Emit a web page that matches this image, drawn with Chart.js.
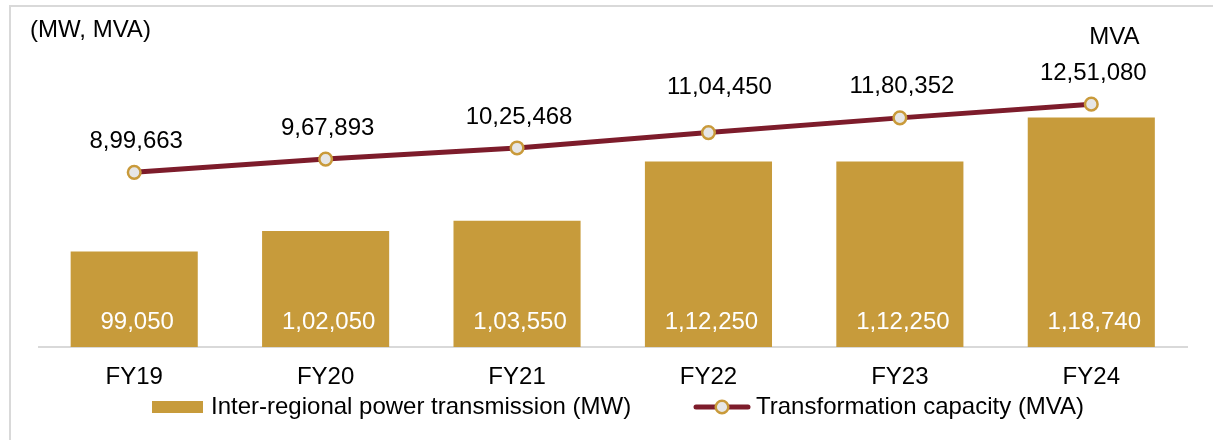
<!DOCTYPE html>
<html>
<head>
<meta charset="utf-8">
<script src="https://cdn.jsdelivr.net/npm/chart.js@4.4.1/dist/chart.umd.min.js"></script>
<style>
  html, body { margin: 0; padding: 0; background: #fff; }
  #wrap { position: relative; width: 1213px; height: 440px; }
</style>
</head>
<body>
<div id="wrap"><canvas id="c" width="1213" height="440"></canvas></div>
<script>
// ---- data ----
const categories = ['FY19', 'FY20', 'FY21', 'FY22', 'FY23', 'FY24'];
const transmissionMW = [99050, 102050, 103550, 112250, 112250, 118740];
const capacityMVA = [899663, 967893, 1025468, 1104450, 1180352, 1251080];
const seriesNames = ['Inter-regional power transmission (MW)', 'Transformation capacity (MVA)'];
const unitLabel = '(MW, MVA)';
const lineUnitLabel = 'MVA';

// Indian digit grouping (e.g. 12,51,080)
function fmtIN(v) {
  const s = String(Math.round(v));
  if (s.length <= 3) return s;
  const last3 = s.slice(-3);
  let rest = s.slice(0, -3);
  const parts = [];
  while (rest.length > 2) { parts.unshift(rest.slice(-2)); rest = rest.slice(0, -2); }
  if (rest.length) parts.unshift(rest);
  return parts.join(',') + ',' + last3;
}

const FONT = '"Liberation Sans", Arial, sans-serif';
const BAR_COLOR = '#c79b3b';
const LINE_COLOR = '#7d1c2b';
const POINT_FILL = '#e6e6e6';
const POINT_BORDER = '#c99a3a';

const decorPlugin = {
  id: 'decor',
  beforeDraw(chart) {
    const ctx = chart.ctx;
    ctx.save();
    ctx.strokeStyle = '#d9d9d9';
    ctx.lineWidth = 2;
    ctx.beginPath();
    ctx.moveTo(10, 440);
    ctx.lineTo(10, 6);
    ctx.lineTo(1213, 6);
    ctx.stroke();
    ctx.restore();
  },
  afterDatasetsDraw(chart) {
    const ctx = chart.ctx;
    ctx.save();
    ctx.font = '24px ' + FONT;
    ctx.textAlign = 'center';
    ctx.textBaseline = 'middle';
    // bar labels
    const barMeta = chart.getDatasetMeta(0);
    ctx.fillStyle = '#ffffff';
    barMeta.data.forEach((el, i) => {
      ctx.fillText(fmtIN(transmissionMW[i]), el.x + 3, chart.scales.y.bottom - 25);
    });
    // line labels
    const lineMeta = chart.getDatasetMeta(1);
    ctx.fillStyle = '#000000';
    const nudge = { 3: [9, -14] };
    lineMeta.data.forEach((el, i) => {
      const n = nudge[i] || [0, 0];
      ctx.fillText(fmtIN(capacityMVA[i]), el.x + 2 + n[0], el.y - 31 + n[1]);
    });
    // unit labels
    const last = lineMeta.data[lineMeta.data.length - 1];
    ctx.fillText(lineUnitLabel, last.x + 23, 37);
    ctx.textAlign = 'left';
    ctx.fillText(unitLabel, 30, 30);
    ctx.restore();
  },
  afterDraw(chart) {
    const ctx = chart.ctx;
    ctx.save();
    ctx.font = '24px ' + FONT;
    ctx.textBaseline = 'middle';
    ctx.textAlign = 'left';
    const ly = 407;
    // bar legend
    ctx.fillStyle = BAR_COLOR;
    ctx.fillRect(152, ly - 6, 51, 12);
    ctx.fillStyle = '#000';
    ctx.fillText(seriesNames[0], 211, ly);
    // line legend
    ctx.strokeStyle = LINE_COLOR;
    ctx.lineWidth = 5;
    ctx.lineCap = 'round';
    ctx.beginPath();
    ctx.moveTo(696, ly);
    ctx.lineTo(748, ly);
    ctx.stroke();
    ctx.beginPath();
    ctx.arc(722, ly, 6.3, 0, Math.PI * 2);
    ctx.fillStyle = POINT_FILL;
    ctx.fill();
    ctx.lineWidth = 2.5;
    ctx.strokeStyle = POINT_BORDER;
    ctx.stroke();
    ctx.fillStyle = '#000';
    ctx.fillText(seriesNames[1], 756, ly);
    ctx.restore();
  }
};

new Chart(document.getElementById('c'), {
  data: {
    labels: categories,
    datasets: [
      {
        type: 'bar',
        label: seriesNames[0],
        data: transmissionMW,
        backgroundColor: BAR_COLOR,
        yAxisID: 'y',
        order: 1,
        barPercentage: 0.664,
        categoryPercentage: 1.0
      },
      {
        type: 'line',
        label: seriesNames[1],
        data: capacityMVA,
        yAxisID: 'y1',
        order: 0,
        borderColor: LINE_COLOR,
        borderWidth: 5,
        pointRadius: 6.3,
        pointBorderWidth: 2.5,
        pointBackgroundColor: POINT_FILL,
        pointBorderColor: POINT_BORDER,
        tension: 0
      }
    ]
  },
  options: {
    responsive: false,
    animation: false,
    layout: { padding: { left: 38.5, right: 26, top: 17, bottom: 0 } },
    plugins: { legend: { display: false }, tooltip: { enabled: false } },
    scales: {
      x: {
        grid: { display: false, drawTicks: false },
        border: { display: true, color: '#d9d9d9', width: 2 },
        ticks: { font: { size: 24, family: FONT }, color: '#000', padding: 16 },
        afterFit(scale) { scale.height = 93; }
      },
      y: { display: false, min: 85000, max: 133500 },
      y1: { display: false, min: 0, max: 1700000 }
    }
  },
  plugins: [decorPlugin]
});
</script>
</body>
</html>
